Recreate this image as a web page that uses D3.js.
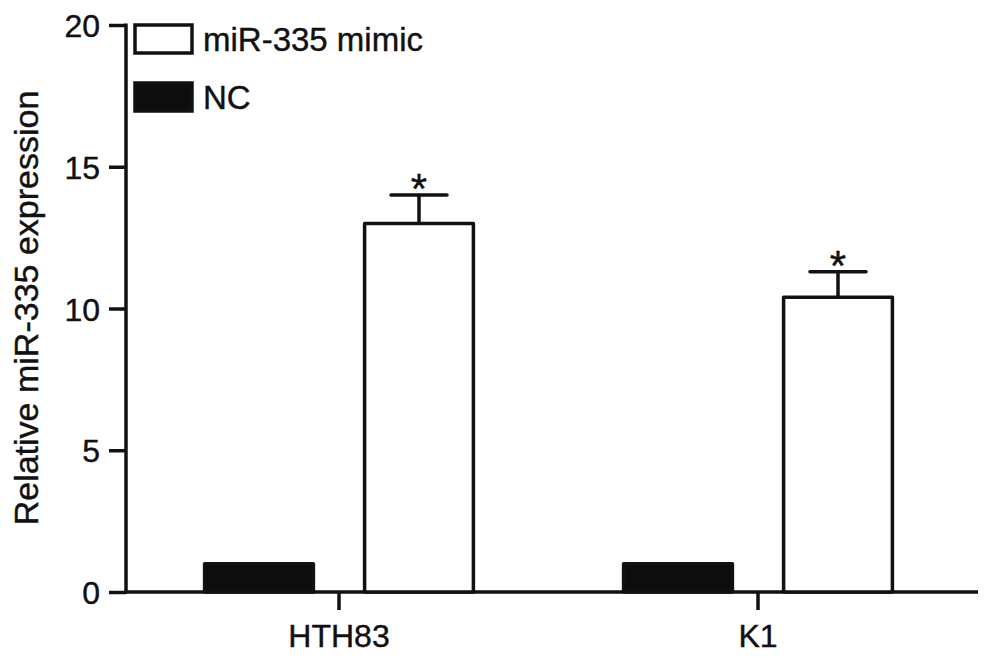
<!DOCTYPE html>
<html>
<head>
<meta charset="utf-8">
<script src="https://cdn.jsdelivr.net/npm/d3@7"></script>
<style>
  html, body { margin: 0; padding: 0; background: #fff; }
  svg { display: block; }
  text { font-family: "Liberation Sans", Arial, sans-serif; fill: #111; stroke: #111; stroke-width: 0.4px; }
</style>
</head>
<body>
<svg id="chart" width="992" height="658"></svg>
<script>
const categories = ["HTH83", "K1"];
const series = ["NC", "miR-335 mimic"];
const ncValues = [1.0, 1.0];
const mimicValues = [13.0, 10.4];
const mimicErrors = [1.0, 0.9];
const yTicks = [0, 5, 10, 15, 20];
const legendOrder = ["miR-335 mimic", "NC"];
const yLabel = "Relative miR-335 expression";

const svg = d3.select("#chart");
const fills = { "NC": "#0d0d0d", "miR-335 mimic": "#ffffff" };

const y = d3.scaleLinear().domain([0, 20]).range([592, 25]);
const x0 = d3.scaleBand().domain(categories).range([129.5, 967.5]);
const x1 = d3.scaleBand().domain(series).range([-160, 160]).paddingInner(0.32).paddingOuter(0.16);

const data = categories.map((c, i) => ({
  cat: c,
  bars: [
    { s: "NC", v: ncValues[i], e: 0 },
    { s: "miR-335 mimic", v: mimicValues[i], e: mimicErrors[i] }
  ]
}));

// Y axis
const yAxis = d3.axisLeft(y).tickValues(yTicks).tickSize(17).tickPadding(9).tickFormat(d3.format("d"));
const gy = svg.append("g").attr("transform", "translate(126,0)").call(yAxis);
gy.select(".domain").remove();
gy.selectAll(".tick line").attr("stroke", "#111").attr("stroke-width", 3.5);
gy.selectAll(".tick text").style("font-size", "32px").attr("dy", "0.36em")
  .style("font-family", "'Liberation Sans', Arial, sans-serif").attr("fill", "#111");
svg.append("line").attr("x1", 126).attr("x2", 126).attr("y1", y(20) - 1.5).attr("y2", y(0) + 1.5)
  .attr("stroke", "#111").attr("stroke-width", 3.5);

// X axis
const gx = svg.append("g").attr("transform", "translate(0,592)")
  .call(d3.axisBottom(x0).tickSize(0).tickPadding(0));
gx.select(".domain").remove();
gx.selectAll(".tick text").remove();
svg.append("line").attr("x1", 126).attr("x2", 978).attr("y1", y(0)).attr("y2", y(0))
  .attr("stroke", "#111").attr("stroke-width", 3.5);
categories.forEach(c => {
  const cx = x0(c) + x0.bandwidth() / 2;
  svg.append("line").attr("x1", cx).attr("x2", cx).attr("y1", y(0)).attr("y2", y(0) + 18)
    .attr("stroke", "#111").attr("stroke-width", 3.5);
  svg.append("text").attr("x", cx).attr("y", 647).attr("text-anchor", "middle")
    .style("font-size", "32px").text(c);
});

// Bars
const groups = svg.append("g").selectAll("g").data(data).join("g")
  .attr("transform", d => `translate(${x0(d.cat) + x0.bandwidth() / 2},0)`);

groups.selectAll("rect").data(d => d.bars).join("rect")
  .attr("x", d => x1(d.s))
  .attr("width", x1.bandwidth())
  .attr("y", d => y(d.v))
  .attr("height", d => y(0) - y(d.v))
  .attr("fill", d => fills[d.s])
  .attr("stroke", "#111")
  .attr("stroke-width", 3.5)
  .attr("stroke-linejoin", "round");

// Error bars (upper only) and asterisks
groups.each(function(d) {
  const g = d3.select(this);
  d.bars.filter(b => b.e > 0).forEach(b => {
    const cx = x1(b.s) + x1.bandwidth() / 2;
    g.append("line").attr("x1", cx).attr("x2", cx).attr("y1", y(b.v)).attr("y2", y(b.v + b.e))
      .attr("stroke", "#111").attr("stroke-width", 3.5);
    g.append("line").attr("x1", cx - 28).attr("x2", cx + 28).attr("y1", y(b.v + b.e)).attr("y2", y(b.v + b.e))
      .attr("stroke", "#111").attr("stroke-width", 3.5).attr("stroke-linecap", "round");
    g.append("text").attr("x", cx).attr("y", y(b.v + b.e) + 8).attr("text-anchor", "middle")
      .style("font-size", "42px").text("*");
  });
});

// Legend
const legend = svg.append("g");
legendOrder.forEach((s, i) => {
  const ly = 25 + i * 58;
  legend.append("rect").attr("x", 135).attr("y", ly).attr("width", 57).attr("height", 28)
    .attr("fill", fills[s]).attr("stroke", "#111").attr("stroke-width", 3.5);
  legend.append("text").attr("x", 203).attr("y", ly + 26).style("font-size", "33px").text(s);
});

// Y label
svg.append("text").attr("transform", "translate(38,308) rotate(-90)")
  .attr("text-anchor", "middle").style("font-size", "34px").text(yLabel);
</script>
</body>
</html>
